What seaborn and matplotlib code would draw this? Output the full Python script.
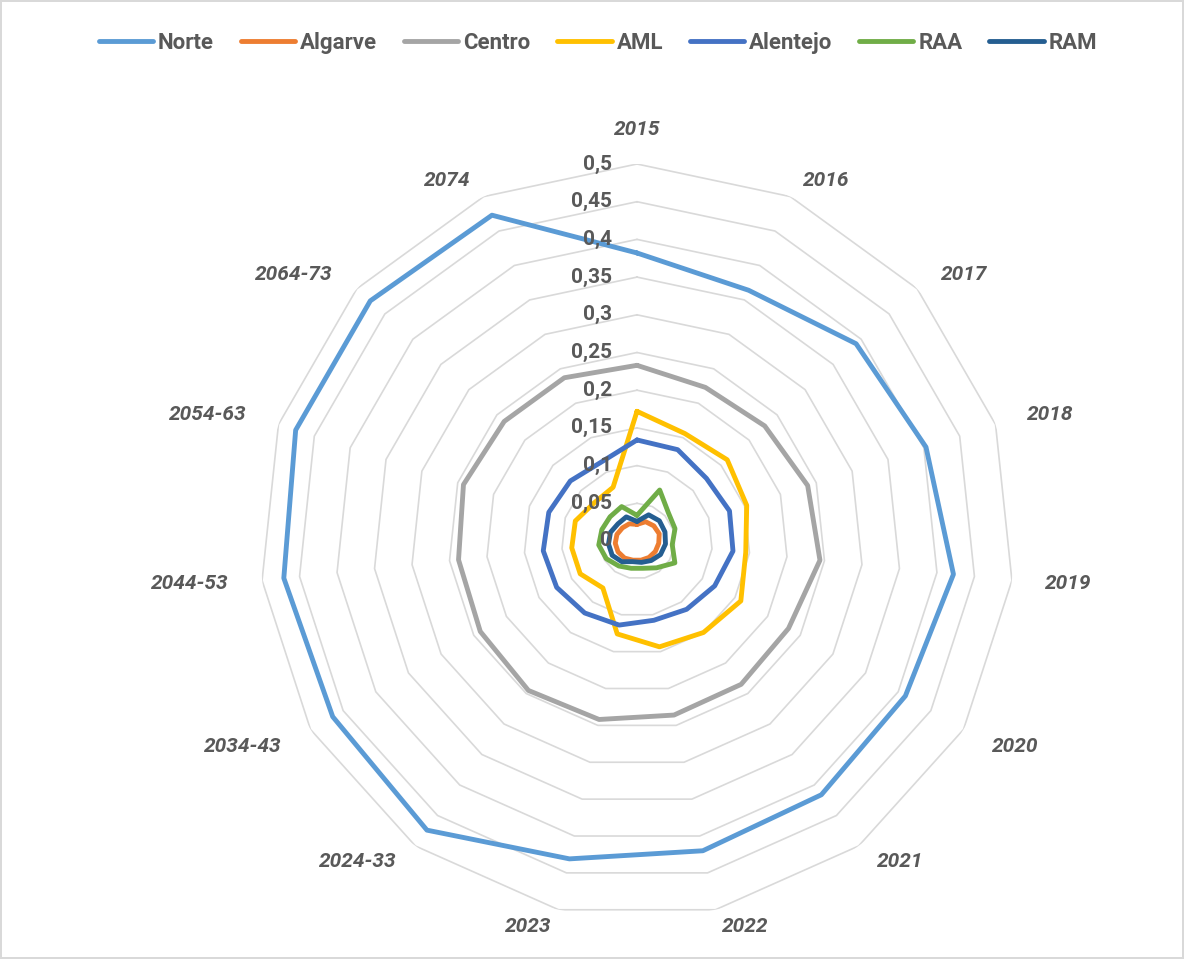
import numpy as np
import pandas as pd
import matplotlib
matplotlib.use('Agg')
import matplotlib.pyplot as plt
import seaborn as sns

# categories (clockwise from the top)
years = ['2015', '2016', '2017', '2018', '2019', '2020', '2021', '2022', '2023',
         '2024-33', '2034-43', '2044-53', '2054-63', '2064-73', '2074']

regions = ['Norte', 'Algarve', 'Centro', 'AML', 'Alentejo', 'RAA', 'RAM']
colors = ['#5B9BD5', '#ED7D31', '#A5A5A5', '#FFC000', '#4472C4', '#70AD47', '#255E91']

norte = [0.382, 0.364, 0.391, 0.403, 0.422, 0.411, 0.416, 0.420, 0.431, 0.474, 0.466, 0.471, 0.476, 0.476, 0.473]
algarve = [0.022, 0.028, 0.030, 0.031, 0.029, 0.028, 0.027, 0.026, 0.026, 0.028, 0.029, 0.029, 0.028, 0.026, 0.025]
centro = [0.233, 0.223, 0.228, 0.238, 0.244, 0.232, 0.235, 0.236, 0.242, 0.245, 0.240, 0.238, 0.242, 0.237, 0.237]
aml = [0.172, 0.156, 0.161, 0.153, 0.145, 0.159, 0.150, 0.1435, 0.126, 0.077, 0.087, 0.087, 0.086, 0.076, 0.078]
alentejo = [0.134, 0.1326, 0.124, 0.129, 0.128, 0.119, 0.112, 0.1075, 0.114, 0.118, 0.123, 0.125, 0.123, 0.119, 0.115]
raa = [0.034, 0.074, 0.056, 0.053, 0.047, 0.058, 0.044, 0.037, 0.037, 0.041, 0.047, 0.051, 0.049, 0.048, 0.050]
ram = [0.026, 0.038, 0.040, 0.039, 0.038, 0.036, 0.032, 0.029, 0.028, 0.034, 0.038, 0.038, 0.037, 0.034, 0.035]

rings = [0.05, 0.1, 0.15, 0.2, 0.25, 0.3, 0.35, 0.4, 0.45, 0.5]
ring_labels = ['0', '0,05', '0,1', '0,15', '0,2', '0,25', '0,3', '0,35', '0,4', '0,45', '0,5']

series = dict(zip(regions, [norte, algarve, centro, aml, alentejo, raa, ram]))

n = len(years)
theta = np.arange(n) * 2 * np.pi / n
theta_closed = np.append(theta, 2 * np.pi)

rows = []
for reg in regions:
    vals = series[reg] + [series[reg][0]]
    for t, v in zip(theta_closed, vals):
        rows.append({'theta': t, 'value': v, 'region': reg})
df = pd.DataFrame(rows)

sns.set_style('white')
plt.rcParams['font.family'] = ['Roboto', 'DejaVu Sans']
txt_color = '#595959'

fig = plt.figure(figsize=(11.84, 9.59), dpi=100)
fig.patch.set_edgecolor('#D9D9D9')
fig.patch.set_linewidth(1.5)

W, H = 1184, 959
cx, cy, R = 637, 541, 377
ax = fig.add_axes([(cx - R) / W, (H - cy - R) / H, 2 * R / W, 2 * R / H], projection='polar')
ax.set_theta_zero_location('N')
ax.set_theta_direction(-1)

# polygon grid rings
for v in rings:
    ax.plot(theta_closed, [v] * len(theta_closed), color='#D9D9D9', lw=1.2, zorder=0)

sns.lineplot(data=df, x='theta', y='value', hue='region', hue_order=regions,
             palette=colors, sort=False, estimator=None, linewidth=3.5, ax=ax)

ax.set_ylim(0, 0.5)
ax.grid(False)
ax.spines['polar'].set_visible(False)
ax.set_xticks([])
ax.set_yticks([])
ax.set_xlabel('')
ax.set_ylabel('')

# category labels
for t, lbl in zip(theta, years):
    s, c = np.sin(t), np.cos(t)
    ha = 'center' if abs(s) < 0.1 else ('left' if s > 0 else 'right')
    va = 'center' if abs(c) < 0.55 else ('bottom' if c > 0 else 'top')
    if ha == 'center':
        off = (0, 18 * c)
    elif va == 'center':
        off = (24 * s, 24 * c)
    else:
        off = (23 * s, 5 * c)
    ax.annotate(lbl, xy=(t, 0.5), xytext=off, textcoords='offset points',
                ha=ha, va=va, fontsize=15, fontweight='bold', fontstyle='italic',
                color=txt_color, annotation_clip=False)

# radial value labels
for v, lbl in zip([0] + rings, ring_labels):
    ax.annotate(lbl, xy=(0, v), xytext=(-18, 0), textcoords='offset points',
                ha='right', va='center', fontsize=15, fontweight='bold',
                color=txt_color, annotation_clip=False)

handles, labels = ax.get_legend_handles_labels()
if ax.get_legend() is not None:
    ax.get_legend().remove()
fig.legend(handles, labels, loc='center', bbox_to_anchor=(0.505, 0.955), ncol=7,
           frameon=False, handlelength=2.45, handletextpad=0.22, columnspacing=1.2,
           prop={'weight': 'bold', 'size': 16}, labelcolor=txt_color)

fig.savefig('out.png', dpi=100, facecolor='white')
plt.close()
